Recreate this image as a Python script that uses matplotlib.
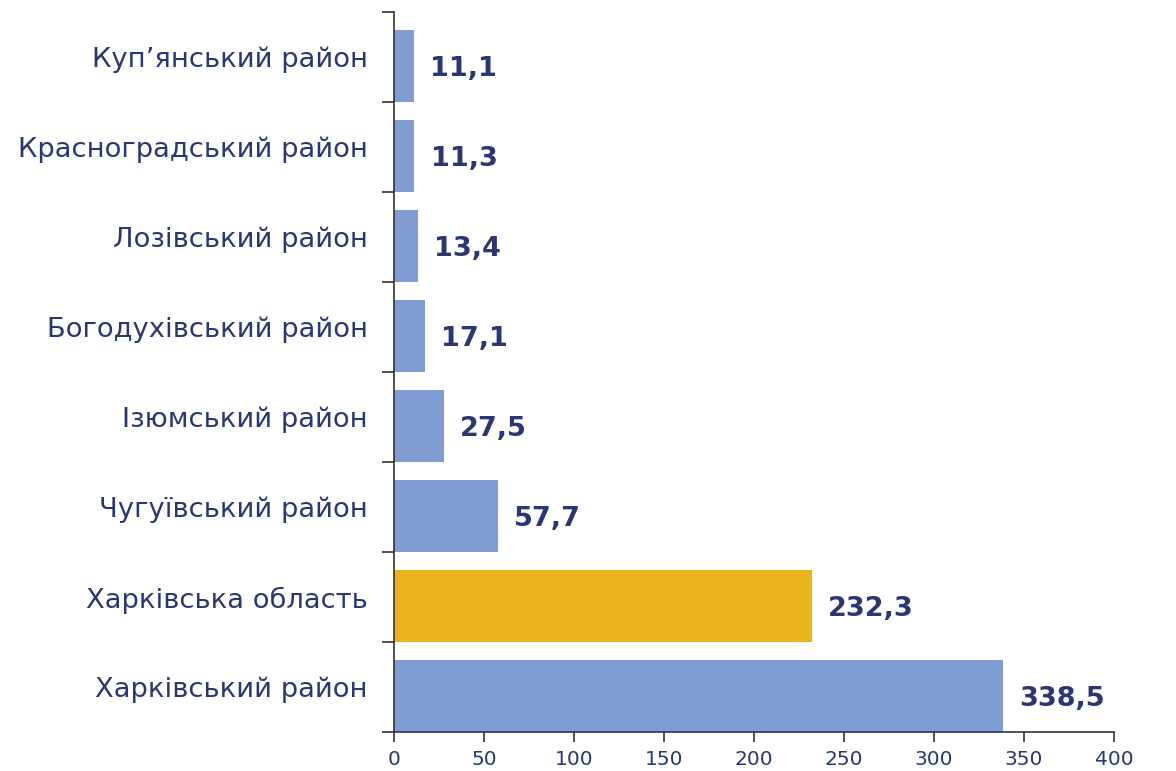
import matplotlib.pyplot as plt
import numpy as np

# data, bottom to top
districts = ["Харківський район", "Харківська область", "Чугуївський район",
             "Ізюмський район", "Богодухівський район", "Лозівський район",
             "Красноградський район", "Куп’янський район"]
values = [338.5, 232.3, 57.7, 27.5, 17.1, 13.4, 11.3, 11.1]
highlight = "Харківська область"

blue = "#7F9DD2"
gold = "#EAB31A"
navy = "#2B3674"

plt.rcParams['font.family'] = ['DejaVu Sans']

fig = plt.figure(figsize=(11.76, 7.71), dpi=100)
ax = fig.add_axes([394 / 1176, 1 - 732 / 771, 720 / 1176, 720 / 771])

y = np.arange(len(districts))
colors = [gold if d == highlight else blue for d in districts]
# bars sit at the bottom of each category slot
ax.barh(y - 0.1, values, height=0.8, color=colors)

for yi, v in zip(y, values):
    ax.text(v + 9, yi - 0.13, f"{v:.1f}".replace(".", ","), va="center", ha="left",
            fontsize=19.5, fontweight="bold", color=navy)

ax.set_xlim(0, 400)
ax.set_ylim(-0.5, len(districts) - 0.5)
ax.set_xticks(np.arange(0, 401, 50))
ax.set_yticks(y)
ax.set_yticklabels(districts, fontsize=19.7, color=navy)
ax.set_yticks(np.arange(-0.5, len(districts), 1), minor=True)
ax.tick_params(axis="y", which="major", length=0, pad=19)
ax.tick_params(axis="y", which="minor", length=9, width=1.2, color="#333333")
ax.tick_params(axis="x", length=7, width=1.2, color="#333333", labelsize=14.5,
               labelcolor=navy, pad=6)

for s in ["top", "right"]:
    ax.spines[s].set_visible(False)
for s in ["left", "bottom"]:
    ax.spines[s].set_color("#333333")
    ax.spines[s].set_linewidth(1.2)

fig.savefig("out.png", dpi=100)
